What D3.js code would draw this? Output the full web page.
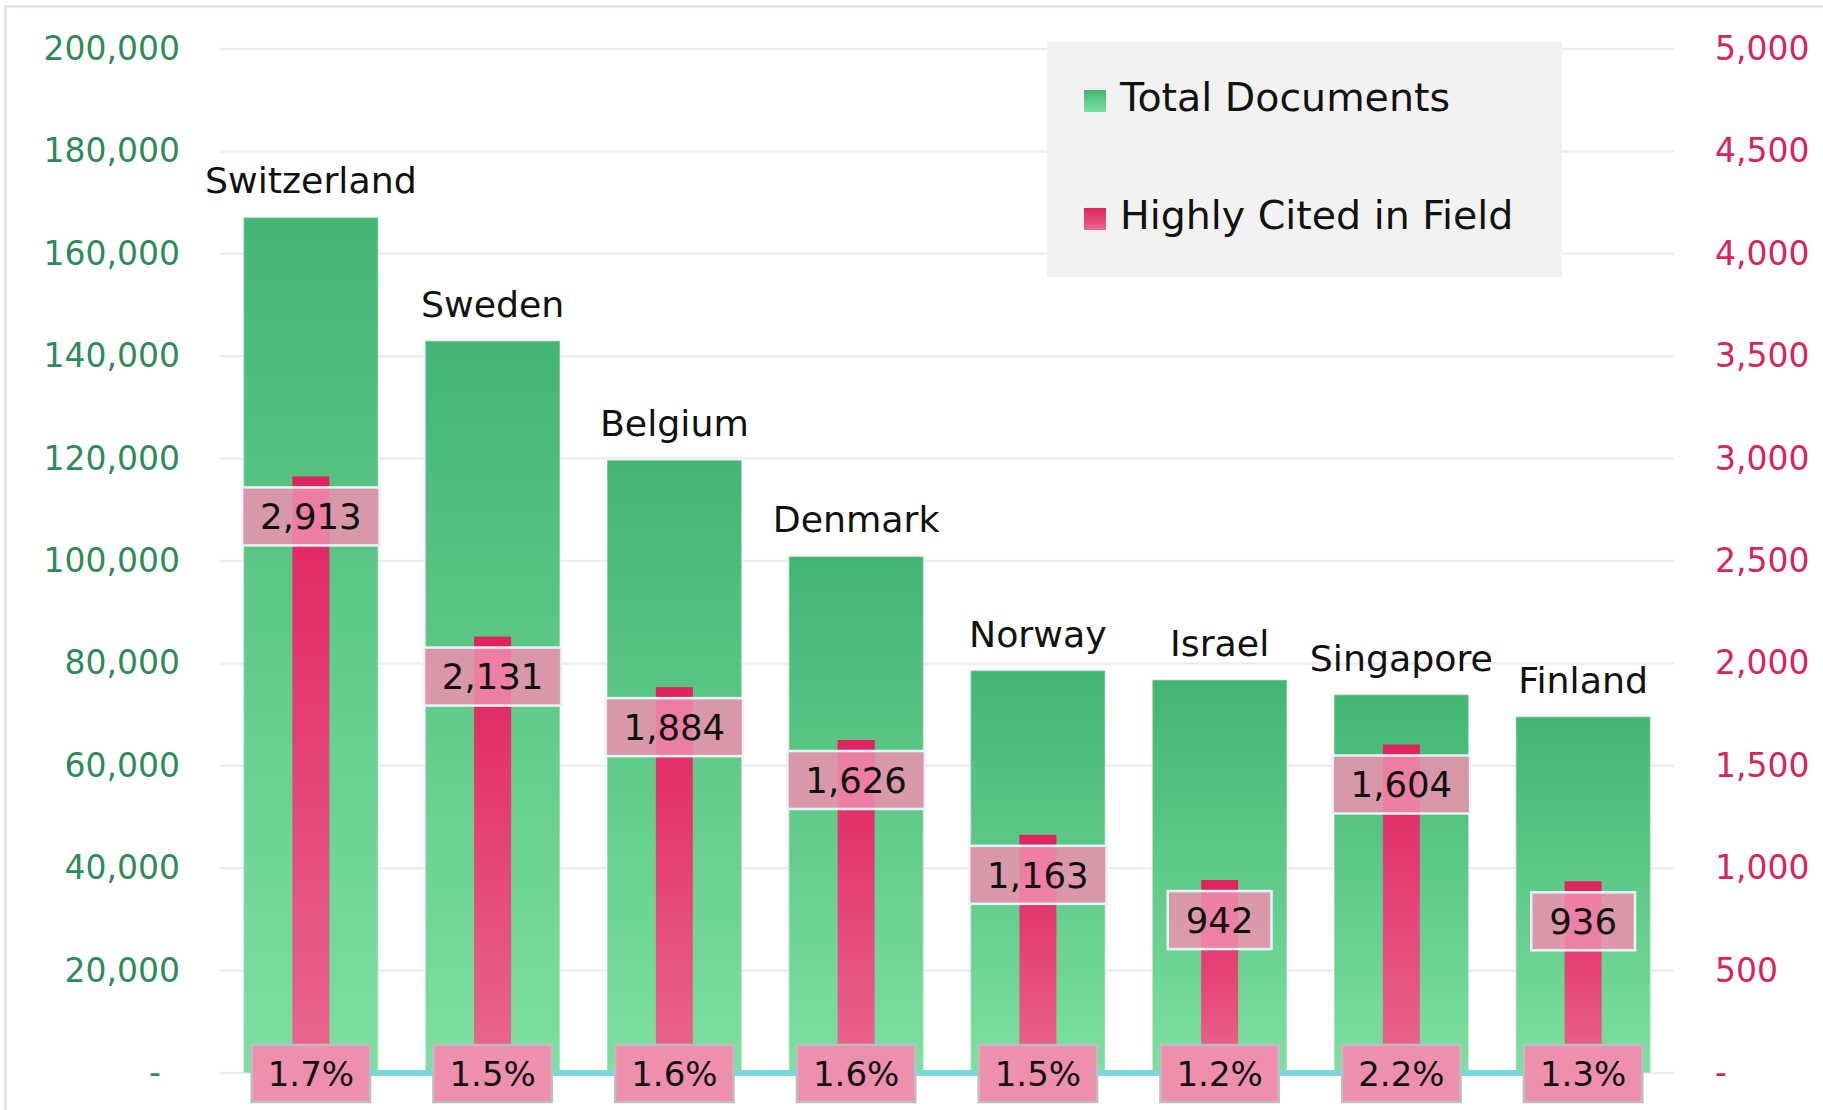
<!DOCTYPE html>
<meta charset="utf-8">
<script src="https://d3js.org/d3.v7.min.js"></script>
<style>
  body { margin: 0; background: #fff; }
  text { font-family: "DejaVu Sans", sans-serif; }
</style>
<div id="chart"></div>
<script>
// Data
const countries = ["Switzerland", "Sweden", "Belgium", "Denmark", "Norway", "Israel", "Singapore", "Finland"];
const totalDocs = [167100, 143000, 119700, 100900, 78600, 76800, 73900, 69600];
const highlyCited = [2913, 2131, 1884, 1626, 1163, 942, 1604, 936];
const citedShare = [1.7, 1.5, 1.6, 1.6, 1.5, 1.2, 2.2, 1.3];
const leftTicks = d3.range(0, 200001, 20000);
const rightTicks = d3.range(0, 5001, 500);
const seriesNames = ["Total Documents", "Highly Cited in Field"];

const data = countries.map((c, i) => ({
  country: c, total: totalDocs[i], cited: highlyCited[i], share: citedShare[i]
}));

const width = 1823, height = 1110;

const svg = d3.select("#chart")
  .append("svg")
  .attr("width", width)
  .attr("height", height);

// frame
svg.append("rect")
  .attr("x", 5.5).attr("y", 6.5)
  .attr("width", width + 20).attr("height", height + 20)
  .attr("fill", "#fff")
  .attr("stroke", "#dddde5")
  .attr("stroke-width", 2);

// gradients
const defs = svg.append("defs");
function grad(id, top, bottom) {
  const g = defs.append("linearGradient")
    .attr("id", id).attr("x1", 0).attr("y1", 0).attr("x2", 0).attr("y2", 1);
  g.append("stop").attr("offset", "0%").attr("stop-color", top);
  g.append("stop").attr("offset", "100%").attr("stop-color", bottom);
}
grad("greenGrad", "#43b575", "#7ee0a0");
grad("pinkGrad", "#e1225e", "#e9688f");

// scales
const x = d3.scaleBand()
  .domain(countries)
  .range([220, 1674])
  .paddingInner(0.259)
  .paddingOuter(0.1295);

const yL = d3.scaleLinear().domain([0, 200000]).range([1073, 49]);
const yR = d3.scaleLinear().domain([0, 5000]).range([1073, 49]);

// gridlines
svg.append("g")
  .selectAll("line")
  .data(leftTicks)
  .join("line")
    .attr("x1", 220).attr("x2", 1674)
    .attr("y1", d => yL(d)).attr("y2", d => yL(d))
    .attr("stroke", "#ededed")
    .attr("stroke-width", 2.5);

// left axis
const fmt = d3.format(",");
const axL = svg.append("g")
  .attr("transform", "translate(189,0)")
  .call(d3.axisLeft(yL).tickValues(leftTicks).tickSize(0).tickPadding(9)
    .tickFormat(d => d === 0 ? "-" : fmt(d)));
axL.select(".domain").remove();
axL.selectAll("text")
  .attr("font-size", 33)
  .attr("font-family", "DejaVu Sans")
  .attr("fill", "#2e8a5a")
  .attr("dx", d => d === 0 ? -19 : 0);

// right axis
const axR = svg.append("g")
  .attr("transform", "translate(1706,0)")
  .call(d3.axisRight(yR).tickValues(rightTicks).tickSize(0).tickPadding(9)
    .tickFormat(d => d === 0 ? "-" : fmt(d)));
axR.select(".domain").remove();
axR.selectAll("text")
  .attr("font-size", 33)
  .attr("font-family", "DejaVu Sans")
  .attr("fill", "#d6245c");

// green bars
svg.append("g")
  .selectAll("rect")
  .data(data)
  .join("rect")
    .attr("x", d => x(d.country))
    .attr("y", d => yL(d.total))
    .attr("width", x.bandwidth())
    .attr("height", d => yL(0) - yL(d.total))
    .attr("fill", "url(#greenGrad)")
    .attr("stroke", "rgba(255,255,255,0.35)")
    .attr("stroke-width", 1.5);

// pink bars
const pinkW = 37;
svg.append("g")
  .selectAll("rect")
  .data(data)
  .join("rect")
    .attr("x", d => x(d.country) + x.bandwidth() / 2 - pinkW / 2)
    .attr("y", d => yR(d.cited))
    .attr("width", pinkW)
    .attr("height", d => yR(0) - yR(d.cited))
    .attr("fill", "url(#pinkGrad)");

// country labels
svg.append("g")
  .selectAll("text")
  .data(data)
  .join("text")
    .attr("x", d => x(d.country) + x.bandwidth() / 2)
    .attr("y", d => yL(d.total) - 24)
    .attr("text-anchor", "middle")
    .attr("font-size", 36.3)
    .attr("fill", "#111")
    .text(d => d.country);

// share line (sits on the baseline)
const line = d3.line()
  .x(d => x(d.country) + x.bandwidth() / 2)
  .y(d => yL(d.share));
svg.append("path")
  .datum(data)
  .attr("d", line)
  .attr("fill", "none")
  .attr("stroke", "#79d8d8")
  .attr("stroke-width", 6);

// value label boxes
const vg = svg.append("g")
  .selectAll("g")
  .data(data)
  .join("g")
    .attr("transform", d => `translate(${x(d.country) + x.bandwidth() / 2}, ${yR(d.cited) + 11})`);
const vRect = vg.append("rect")
  .attr("y", 0).attr("height", 58)
  .attr("fill", "rgb(240,143,176)")
  .attr("fill-opacity", 0.84)
  .attr("stroke", "#e4f6f6")
  .attr("stroke-width", 2.5);
const vText = vg.append("text")
  .attr("y", 29).attr("dy", "0.36em")
  .attr("text-anchor", "middle")
  .attr("font-size", 35.5)
  .attr("fill", "#111")
  .text(d => fmt(d.cited));
vText.each(function() {
  const w = this.getComputedTextLength() + 36;
  d3.select(this.parentNode).select("rect").attr("x", -w / 2).attr("width", w);
});

// percent label boxes
const pg = svg.append("g")
  .selectAll("g")
  .data(data)
  .join("g")
    .attr("transform", d => `translate(${x(d.country) + x.bandwidth() / 2}, ${yL(d.share)})`);
pg.append("rect")
  .attr("y", -28).attr("height", 57)
  .attr("fill", "#ee8fae")
  .attr("stroke", "#bdbdbd")
  .attr("stroke-width", 2.5);
pg.append("text")
  .attr("y", 1).attr("dy", "0.36em")
  .attr("text-anchor", "middle")
  .attr("font-size", 34)
  .attr("fill", "#111")
  .text(d => d.share.toFixed(1) + "%")
  .each(function() {
    const w = this.getComputedTextLength() + 32;
    d3.select(this.parentNode).select("rect").attr("x", -w / 2).attr("width", w);
  });

// legend
const lg = svg.append("g");
lg.append("rect")
  .attr("x", 1047).attr("y", 42)
  .attr("width", 515).attr("height", 235)
  .attr("fill", "#f2f2f2");
const items = lg.selectAll("g")
  .data(seriesNames)
  .join("g")
    .attr("transform", (d, i) => `translate(1084, ${i === 0 ? 90 : 208})`);
items.append("rect")
  .attr("width", 22).attr("height", 22)
  .attr("fill", (d, i) => i === 0 ? "url(#greenGrad)" : "url(#pinkGrad)");
items.append("text")
  .attr("x", 36).attr("y", 21)
  .attr("font-size", 39.5)
  .attr("fill", "#111")
  .text(d => d);
</script>
